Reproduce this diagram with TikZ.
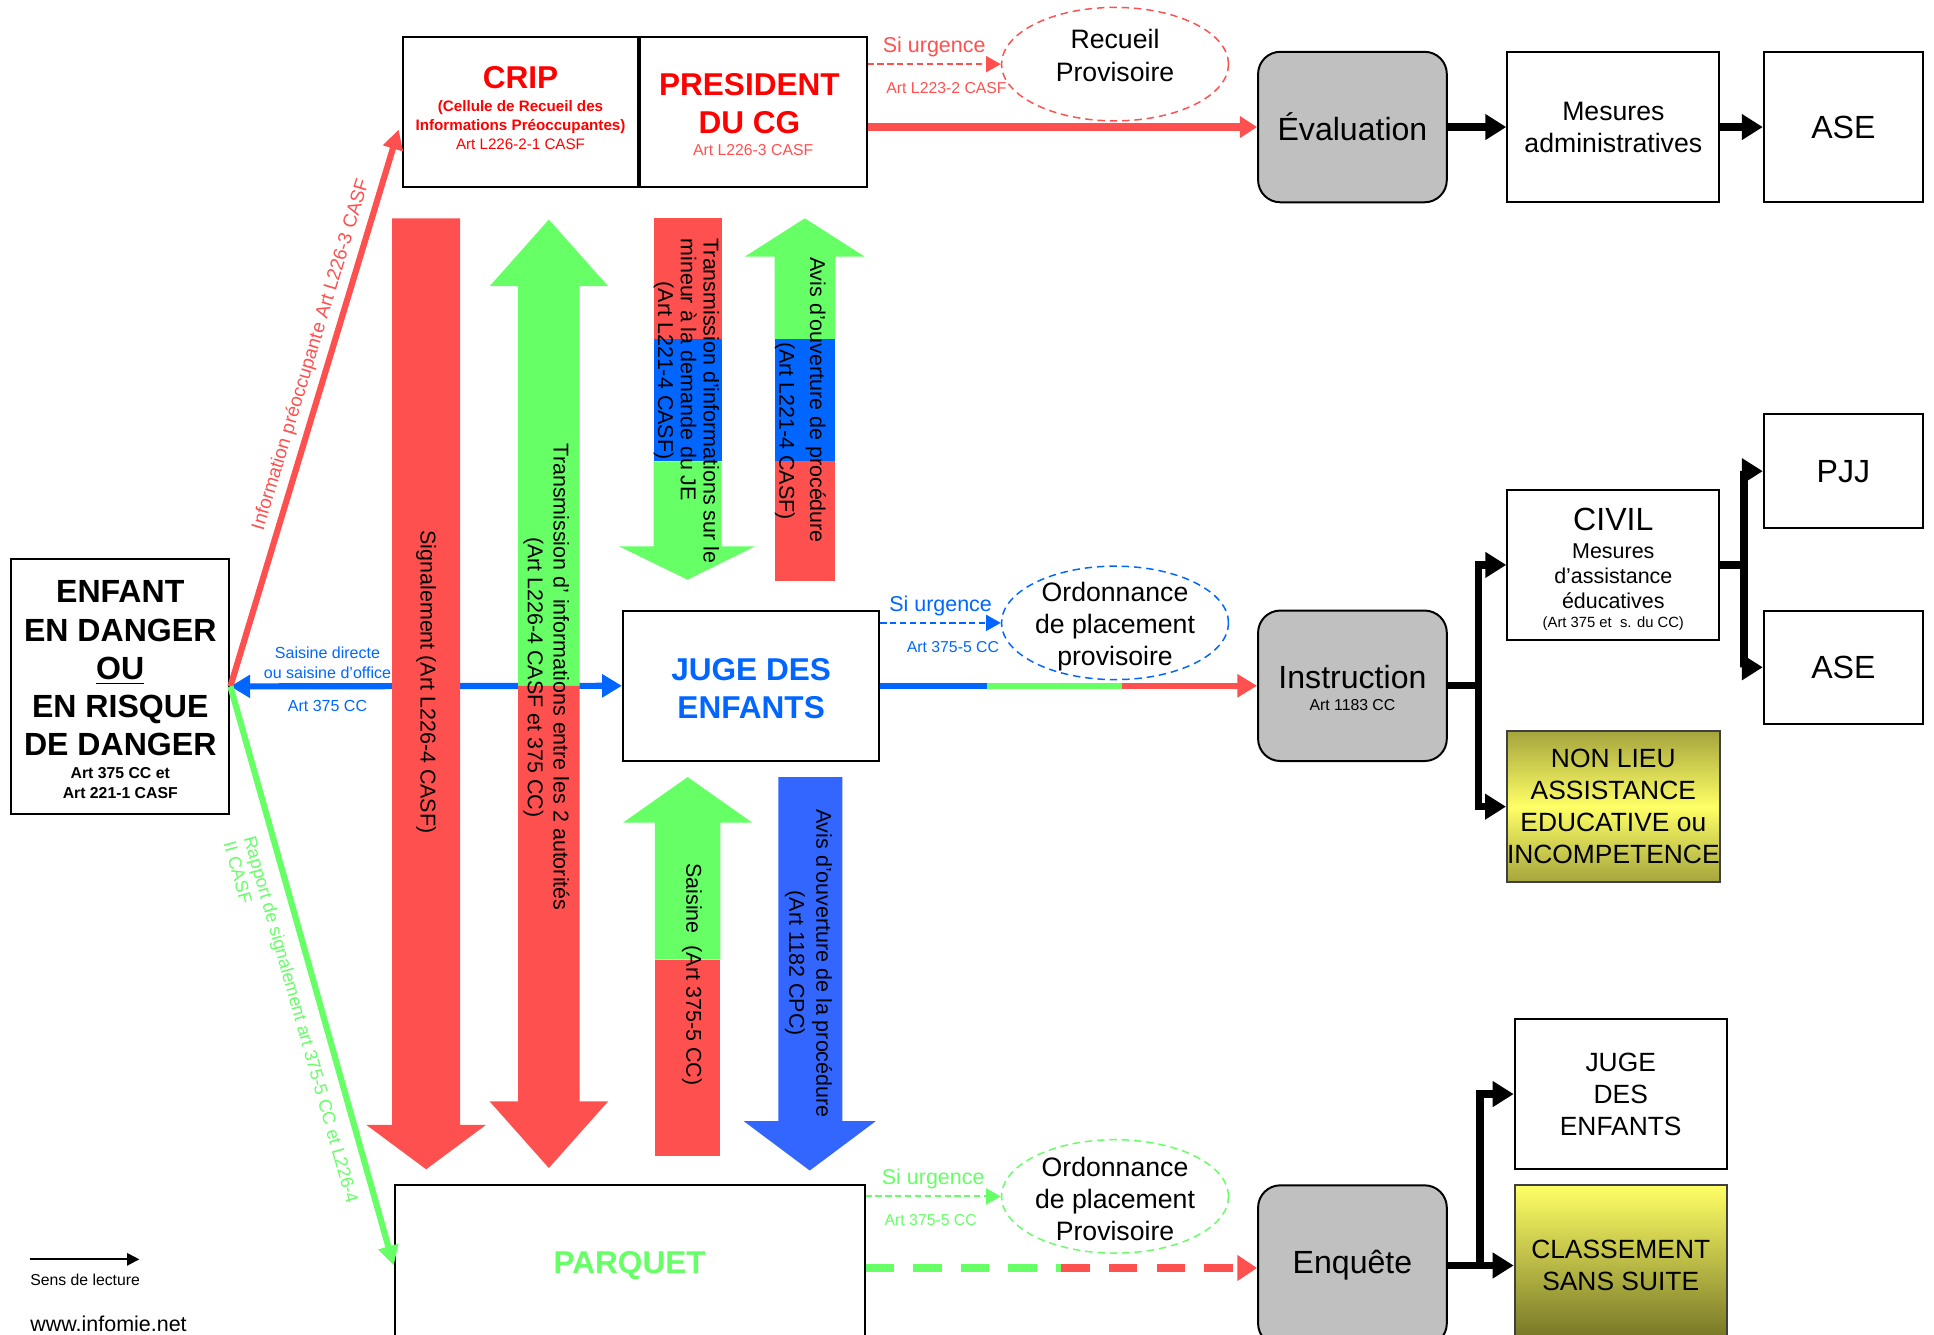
\documentclass[tikz,border=0pt]{standalone}
\usepackage{fontspec}
\setmainfont{Liberation Sans}
\usetikzlibrary{arrows.meta,positioning,calc,shapes.geometric}
\definecolor{red_color}{RGB}{255,80,80}
\definecolor{crip_red}{RGB}{255,0,0}
\definecolor{green_color}{RGB}{102,255,102}
\definecolor{blue_color}{RGB}{0,102,255}
\definecolor{avis_blue}{RGB}{51,102,255}
\definecolor{box_gray}{RGB}{192,192,192}
\definecolor{yellow_color}{RGB}{255,255,102}
\definecolor{olive_color}{RGB}{112,112,36}
\definecolor{olive_light}{RGB}{165,165,62}
\tikzset{
  box/.style={draw=black, thick, fill=white, inner sep=0pt},
  rbox/.style={draw=black, thick, fill=box_gray, rounded corners=9pt, inner sep=0pt},
  goldbox/.style={draw=black!75, thick, inner sep=0pt, shading=axis, shading angle=45},
  urgell/.style={ellipse, line width=0.6pt, dash pattern=on 3pt off 2pt,
    minimum width=92pt, minimum height=46pt, inner sep=0pt},
  bigtxt/.style={font=\fontsize{13}{15.5}\selectfont},
  boldtxt/.style={font=\bfseries\fontsize{12.8}{15.5}\selectfont},
  midtxt/.style={font=\fontsize{10.8}{13}\selectfont},
  smalltxt/.style={font=\fontsize{6.4}{8}\selectfont},
  arrowtxt/.style={rotate=-90, inner sep=0pt, font=\fontsize{8.7}{10.5}\selectfont},
  urglink/.style={line width=0.8pt, dash pattern=on 2.5pt off 1.5pt,
    -{Triangle[length=6pt,width=6.5pt]}},
  urgtop/.style={above=2.5pt, inner sep=0pt, font=\fontsize{8.7}{10.5}\selectfont},
  urgbot/.style={below=7pt, inner sep=0pt, font=\fontsize{6.4}{8}\selectfont},
  cglink/.style={red_color, line width=3.2pt, -{Triangle[length=7pt,width=8.5pt]}},
  jelink/.style={line width=2.5pt},
  pqlink/.style={line width=3pt, dash pattern=on 11.5pt off 7.8pt},
  saisinelink/.style={blue_color, line width=2.5pt,
    {Triangle[length=8pt,width=9pt]}-{Triangle[length=8pt,width=9pt]}},
  diaglink/.style={line width=2.5pt, -{Triangle[length=8pt,width=8pt]}},
  blackline/.style={line width=3pt},
  blacklink/.style={line width=3pt, -{Triangle[length=8.5pt,width=10pt]}}
}

\begin{document}
\begin{tikzpicture}[x=0.5pt, y=-0.5pt]
\useasboundingbox (0,0) rectangle (1568,1082);
\clip (0,0) rectangle (1568,1082);

\node[box, minimum width=88.5pt, minimum height=103.5pt] (enfant) at (97.5,556.5) {};
\node[align=center, font=\bfseries\fontsize{13}{15.5}\selectfont] at ($(enfant.center)+(0,-14.5)$) {ENFANT\\EN DANGER\\\underline{OU}\\EN RISQUE\\DE DANGER};
\node[align=center, font=\bfseries\fontsize{6.4}{8}\selectfont] at ($(enfant.center)+(0,78.5)$) {Art 375 CC et\\Art 221-1 CASF};

\node[box, minimum width=95pt, minimum height=61pt] (crip) at (422,91) {};
\node[box, minimum width=92pt, minimum height=61pt, right=0pt of crip] (president) {};
\node[boldtxt, text=crip_red] at ($(crip.center)+(0,-28)$) {CRIP};
\node[align=center, text=crip_red, font=\fontsize{6.15}{7.75}\selectfont] at ($(crip.center)+(0,10.5)$) {\textbf{(Cellule de Recueil des}\\\textbf{Informations Préoccupantes)}\\Art L226-2-1 CASF};
\node[boldtxt, align=center, text=crip_red] at ($(president.center)+(-3,-7)$) {PRESIDENT\\DU CG};
\node[smalltxt, text=red_color] at ($(president.center)+(0,31)$) {Art L226-3 CASF};

\node[urgell, draw=red_color] (recueil) at (904,52) {};
\node[midtxt, align=center] at ($(recueil.center)+(0,-7)$) {Recueil\\Provisoire};

\node[rbox, bigtxt, minimum width=76.5pt, minimum height=61pt] (evaluation) at (1096.5,103) {Évaluation};
\node[box, midtxt, align=center, minimum width=86pt, minimum height=61pt] (mesures) at (1308,103) {Mesures\\administratives};
\node[box, bigtxt, minimum width=64.5pt, minimum height=61pt] (ase_adm) at (1494.5,103) {ASE};

\node[box, align=center, text=blue_color, font=\bfseries\fontsize{12.8}{15.5}\selectfont, minimum width=104pt, minimum height=61pt] (juge) at (609,556) {};
\node[align=center, text=blue_color, font=\bfseries\fontsize{12.8}{15.5}\selectfont] at ($(juge.center)+(0,2)$) {JUGE DES\\ENFANTS};
\node[urgell, draw=blue_color] (ordo_je) at (904,505) {};
\node[midtxt, align=center] at ($(ordo_je.center)+(0,3)$) {Ordonnance\\de placement\\provisoire};

\node[rbox, minimum width=76.5pt, minimum height=61pt] (instruction) at (1096.5,556) {};
\node[bigtxt] at ($(instruction.center)+(0,-7)$) {Instruction};
\node[smalltxt] at ($(instruction.center)+(0,16)$) {Art 1183 CC};

\node[box, minimum width=86pt, minimum height=61pt] (civil) at (1308,458) {};
\node[bigtxt] at ($(civil.center)+(0,-37)$) {CIVIL};
\node[align=center, font=\fontsize{8.7}{10.25}\selectfont] at ($(civil.center)+(0,9)$) {Mesures\\d’assistance\\éducatives};
\node[font=\fontsize{6}{7}\selectfont] at ($(civil.center)+(0,48)$) {(Art 375 et\ \ s. du CC)};
\node[box, bigtxt, minimum width=64.5pt, minimum height=46pt] (pjj) at (1494.5,382) {PJJ};
\node[box, bigtxt, minimum width=64.5pt, minimum height=46pt] (ase_jud) at (1494.5,541) {ASE};
\node[goldbox, top color=olive_light, bottom color=olive_light, middle color=yellow_color, align=center, font=\fontsize{10.7}{13}\selectfont, minimum width=86pt, minimum height=61pt] (nonlieu) at (1308,654) {NON LIEU\\ASSISTANCE\\EDUCATIVE ou\\INCOMPETENCE};

\node[box, text=green_color, font=\bfseries\fontsize{12.8}{15.5}\selectfont, minimum width=190.5pt, minimum height=65pt] (parquet) at (510.5,1026) {PARQUET};
\node[urgell, draw=green_color] (ordo_pq) at (904,970) {};
\node[midtxt, align=center] at ($(ordo_pq.center)+(0,2)$) {Ordonnance\\de placement\\Provisoire};
\node[rbox, bigtxt, minimum width=76.5pt, minimum height=65pt] (enquete) at (1096.5,1026) {Enquête};
\node[box, align=center, font=\fontsize{10.7}{13}\selectfont, minimum width=86pt, minimum height=61pt] (juge_bis) at (1314,887) {JUGE\\DES\\ENFANTS};
\node[goldbox, top color=yellow_color, bottom color=olive_color, align=center, font=\fontsize{10.7}{13}\selectfont, minimum width=86pt, minimum height=65pt] (classement) at (1314,1026) {CLASSEMENT\\SANS SUITE};

\draw[saisinelink] (enfant.east) -- node[pos=0.248, above=1.8pt, inner sep=0pt, align=center, font=\fontsize{6.5}{8}\selectfont] {Saisine directe\\ou saisine d’office} node[pos=0.248, below=4.6pt, inner sep=0pt, font=\fontsize{6.5}{8}\selectfont] {Art 375 CC} (juge.west);

\fill[red_color] (318,177) -- (373,177) -- (373,912) -- (394,912) -- (345.5,948) -- (297,912) -- (318,912) -- cycle;
\fill[green_color] (420,556) -- (420,232) -- (397,232) -- (445,178) -- (493,232) -- (470,232) -- (470,556) -- cycle;
\fill[red_color] (420,556) -- (420,893) -- (397,893) -- (445,947) -- (493,893) -- (470,893) -- (470,556) -- cycle;
\fill[red_color] (530,177) rectangle (585,275);
\fill[blue_color] (530,275) rectangle (585,374);
\fill[green_color] (530,374) -- (585,374) -- (585,443) -- (612,443) -- (557.5,470) -- (502,443) -- (530,443) -- cycle;
\fill[green_color] (628,275) -- (628,208) -- (604,208) -- (652.5,177) -- (701,208) -- (677,208) -- (677,275) -- cycle;
\fill[blue_color] (628,275) rectangle (677,374);
\fill[red_color] (628,374) rectangle (677,471);
\fill[green_color] (531,778) -- (531,667) -- (505,667) -- (557.5,630) -- (610,667) -- (584,667) -- (584,778) -- cycle;
\fill[red_color] (531,778) rectangle (584,937);
\fill[avis_blue] (631,630) -- (683,630) -- (683,909) -- (710,909) -- (656.5,949) -- (603,909) -- (631,909) -- cycle;

\node[arrowtxt] (signal) at (345.5,553) {Signalement (Art L226-4 CASF)};
\node[arrowtxt, align=center] (trans_info) at (443,549) {Transmission d’ informations entre les 2 autorités\\(Art L226-4 CASF et 375 CC)};
\node[arrowtxt, align=left, anchor=west, font=\fontsize{8.7}{9.25}\selectfont] (trans_je) at (556.5,193) {Transmission d’informations sur le\\mineur à la demande du JE\\\hspace*{17.5pt}(Art L221-4 CASF)};
\node[arrowtxt, align=left, anchor=west, font=\fontsize{8.7}{12.5}\selectfont] (avis_cg) at (649,208) {Avis d’ouverture de procédure\\\hspace*{34.5pt}(Art L221-4 CASF)};
\node[arrowtxt] (saisine) at (561,790) {Saisine\ \ (Art 375-5 CC)};
\node[arrowtxt, align=center, font=\fontsize{8.7}{11}\selectfont] (avis_pq) at (655.5,781) {Avis d’ouverture de la procédure\\(Art 1182 CPC)};

\draw[cglink] (president.east |- evaluation.west) -- (evaluation.west);
\draw[urglink, red_color] (president.east |- recueil.west) -- node[urgtop] {Si urgence} node[urgbot, xshift=5pt] {Art L223-2 CASF} (recueil.west);
\draw[blacklink] (evaluation.east) -- (mesures.west);
\draw[blacklink] (mesures.east) -- (ase_adm.west);

\draw[urglink, blue_color] (juge.east |- ordo_je.west) -- node[urgtop] {Si urgence} node[urgbot, xshift=5pt] {Art 375-5 CC} (ordo_je.west);
\coordinate (je_a) at ($(juge.east)!0.283!(instruction.west)$);
\coordinate (je_b) at ($(juge.east)!0.642!(instruction.west)$);
\draw[jelink, blue_color] (juge.east) -- (je_a);
\draw[jelink, green_color] (je_a) -- (je_b);
\draw[jelink, red_color, -{Triangle[length=8pt,width=9pt]}] (je_b) -- (instruction.west);
\draw[blackline] (instruction.east) -- ++(25,0) coordinate (instr_fork);
\draw[blacklink] (instr_fork) |- (civil.west);
\draw[blacklink] (instr_fork) |- (nonlieu.west);
\draw[blackline] (civil.east) -- ++(19,0) coordinate (civil_fork);
\draw[blacklink] (civil_fork) |- (pjj.west);
\draw[blacklink] (civil_fork) |- (ase_jud.west);

\draw[urglink, green_color] (parquet.east |- ordo_pq.west) -- node[urgtop] {Si urgence} node[urgbot, xshift=-1pt] {Art 375-5 CC} (ordo_pq.west);
\coordinate (pq_start) at ($(parquet.east)+(0,2)$);
\coordinate (pq_end) at ($(enquete.west)+(0,2)$);
\coordinate (pq_a) at ($(pq_start)!0.5!(pq_end)$);
\draw[pqlink, green_color] (pq_start) -- (pq_a);
\draw[pqlink, red_color, -{Triangle[length=8pt,width=10pt]}] (pq_a) -- (pq_end);
\draw[blackline] (enquete.east) -- ++(26,0) coordinate (enq_fork);
\draw[blacklink] (enq_fork) |- (juge_bis.west);
\draw[blacklink] (enq_fork) -- (classement.west);

\coordinate (crip_in) at ($(crip.west)+(-3,14)$);
\draw[diaglink, red_color] (enfant.east) -- node[pos=0.586, sloped, above=2.6pt, inner sep=0pt, font=\fontsize{7.7}{9}\selectfont] {Information préoccupante Art L226-3 CASF} (crip_in);
\draw[diaglink, green_color] (enfant.east) -- node[pos=0.565, sloped, below=5pt, inner sep=0pt, align=left, font=\fontsize{7.3}{8.5}\selectfont] {Rapport de signalement art 375-5 CC et L226-4\\II CASF} (parquet.west);

\coordinate (sens_start) at (24,1021);
\coordinate (sens_end) at (113,1021);
\draw[line width=0.8pt, -{Triangle[length=5pt,width=5pt]}] (sens_start) -- (sens_end);
\node[smalltxt] (sens) at (69,1038) {Sens de lecture};
\node[font=\fontsize{8.7}{10}\selectfont] (site) at (88,1073) {www.infomie.net};

\end{tikzpicture}
\end{document}
